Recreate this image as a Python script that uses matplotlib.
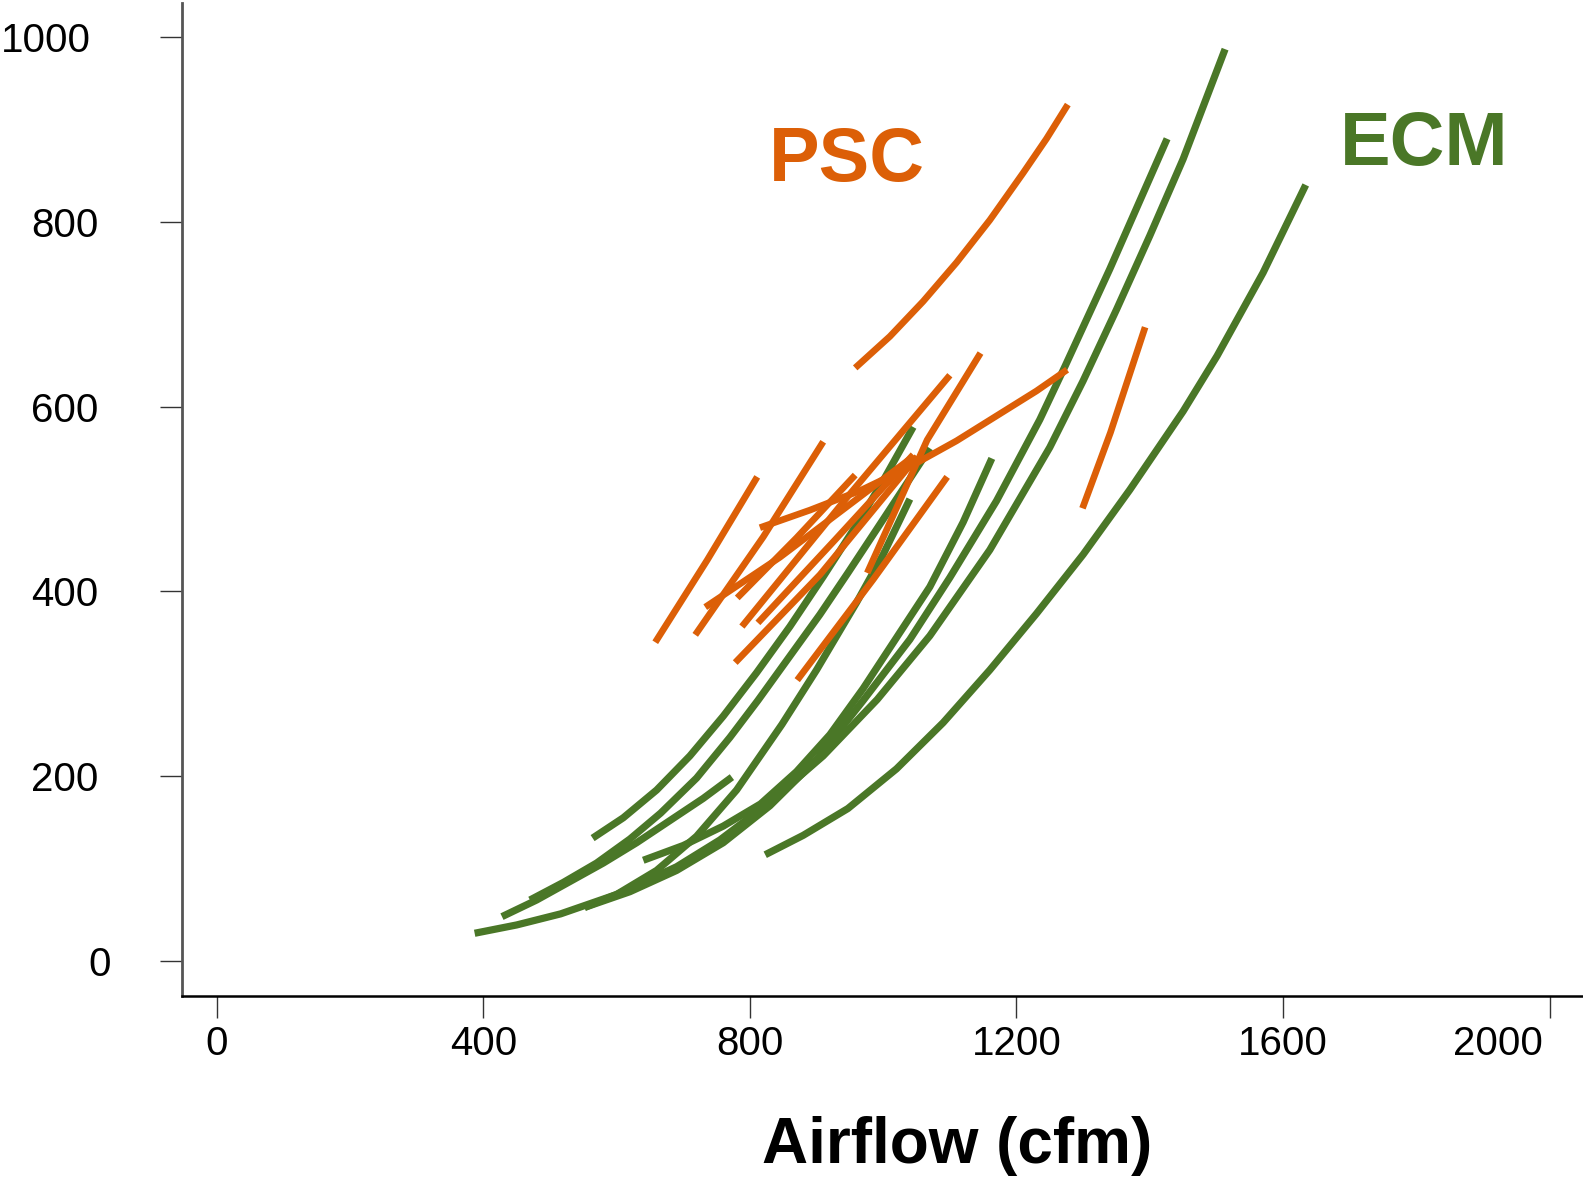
import matplotlib
matplotlib.use("Agg")
import matplotlib.pyplot as plt
from matplotlib.transforms import ScaledTranslation

plt.rcParams['font.family'] = ['Liberation Sans', 'DejaVu Sans']

green = '#4a7727'
orange = '#dc5f07'

# ECM fan curves: airflow (cfm) vs value
ecm_x = [
    [387, 450, 516, 600, 690, 755, 830, 910, 991, 1070, 1160, 1250, 1300, 1350, 1400, 1450, 1513],
    [552, 620, 690, 760, 830, 900, 970, 1040, 1100, 1170, 1235, 1273, 1340, 1426],
    [823, 880, 947, 1020, 1090, 1160, 1230, 1300, 1370, 1450, 1501, 1570, 1634],
    [640, 700, 760, 816, 870, 920, 970, 1020, 1070, 1120, 1163],
    [564, 610, 660, 710, 760, 810, 860, 910, 960, 1000, 1045],
    [470, 520, 570, 620, 666, 720, 770, 812, 860, 905, 947, 1000, 1070],
    [428, 480, 530, 580, 630, 680, 730, 773],
    [552, 600, 660, 720, 780, 848, 900, 960, 1000, 1040],
]
ecm_y = [
    [30, 39, 51, 72, 102, 131, 172, 222, 283, 352, 445, 556, 628, 705, 785, 868, 987],
    [58, 75, 98, 128, 168, 218, 282, 348, 415, 498, 586, 644, 749, 890],
    [115, 136, 165, 208, 258, 315, 376, 440, 510, 595, 655, 745, 840],
    [109, 125, 146, 170, 205, 245, 295, 350, 405, 475, 544],
    [133, 155, 185, 222, 265, 312, 362, 416, 472, 520, 578],
    [66, 85, 106, 132, 160, 198, 242, 282, 330, 375, 420, 478, 555],
    [48, 66, 86, 106, 128, 152, 176, 199],
    [58, 72, 98, 135, 185, 256, 315, 388, 440, 500],
]

# PSC fan curves
psc_x = [
    [658, 736, 811],
    [718, 820, 910],
    [733, 845, 1045],
    [781, 870, 958],
    [815, 890, 965, 1040, 1110, 1170, 1230, 1276],
    [788, 946, 1100],
    [812, 928, 1045],
    [778, 905, 1051],
    [871, 985, 1096],
    [976, 1066, 1146],
    [958, 1010, 1060, 1110, 1160, 1210, 1245, 1277],
    [1299, 1341, 1393],
]
psc_y = [
    [345, 434, 524],
    [353, 459, 562],
    [383, 437, 546],
    [393, 458, 526],
    [469, 488, 509, 535, 563, 590, 617, 640],
    [362, 502, 634],
    [366, 456, 548],
    [323, 418, 546],
    [304, 413, 524],
    [420, 564, 658],
    [642, 676, 714, 756, 802, 853, 890, 927],
    [490, 572, 686],
]

xticks = [0, 400, 800, 1200, 1600, 2000]
yticks = [0, 200, 400, 600, 800, 1000]

fig = plt.figure(figsize=(15.83, 11.78), dpi=100)
ax = fig.add_axes([0.1148, 0.1545, 0.8852, 0.843])

for xs, ys in zip(ecm_x, ecm_y):
    ax.plot(xs, ys, color=green, lw=5.2, solid_capstyle='butt', solid_joinstyle='round')
for xs, ys in zip(psc_x, psc_y):
    ax.plot(xs, ys, color=orange, lw=4.8, solid_capstyle='butt', solid_joinstyle='round')

ax.text(945, 844, 'PSC', color=orange, fontsize=54.5, fontweight='bold', ha='center', va='baseline')
ax.text(1812, 862, 'ECM', color=green, fontsize=54.5, fontweight='bold', ha='center', va='baseline')

ax.set_xlim(-52.5, 2050)
ax.set_ylim(-37.9, 1037)
ax.set_xticks(xticks)
ax.set_yticks(yticks)

for s in ['top', 'right']:
    ax.spines[s].set_visible(False)
ax.spines['left'].set_color('#555555')
ax.spines['left'].set_linewidth(2.0)
ax.spines['bottom'].set_color('black')
ax.spines['bottom'].set_linewidth(1.8)

ax.tick_params(axis='x', length=16, width=1.0, color='#333333', labelsize=29, pad=5)
ax.tick_params(axis='y', length=16, width=1.0, color='#333333', labelsize=29, pad=44)

# small label shifts as in the original
def shift(label, dx_px):
    label.set_transform(label.get_transform() + ScaledTranslation(dx_px / 100, 0, fig.dpi_scale_trans))

yt = ax.yaxis.get_major_ticks()
shift(yt[0].label1, 12)
shift(yt[-1].label1, -8)
xt = ax.xaxis.get_major_ticks()
shift(xt[-1].label1, -52)

ax.set_xlabel('Airflow (cfm)', fontsize=46, fontweight='bold', va='baseline')
ax.xaxis.set_label_coords(0.553, -0.168)

fig.savefig('out.png', dpi=100)
